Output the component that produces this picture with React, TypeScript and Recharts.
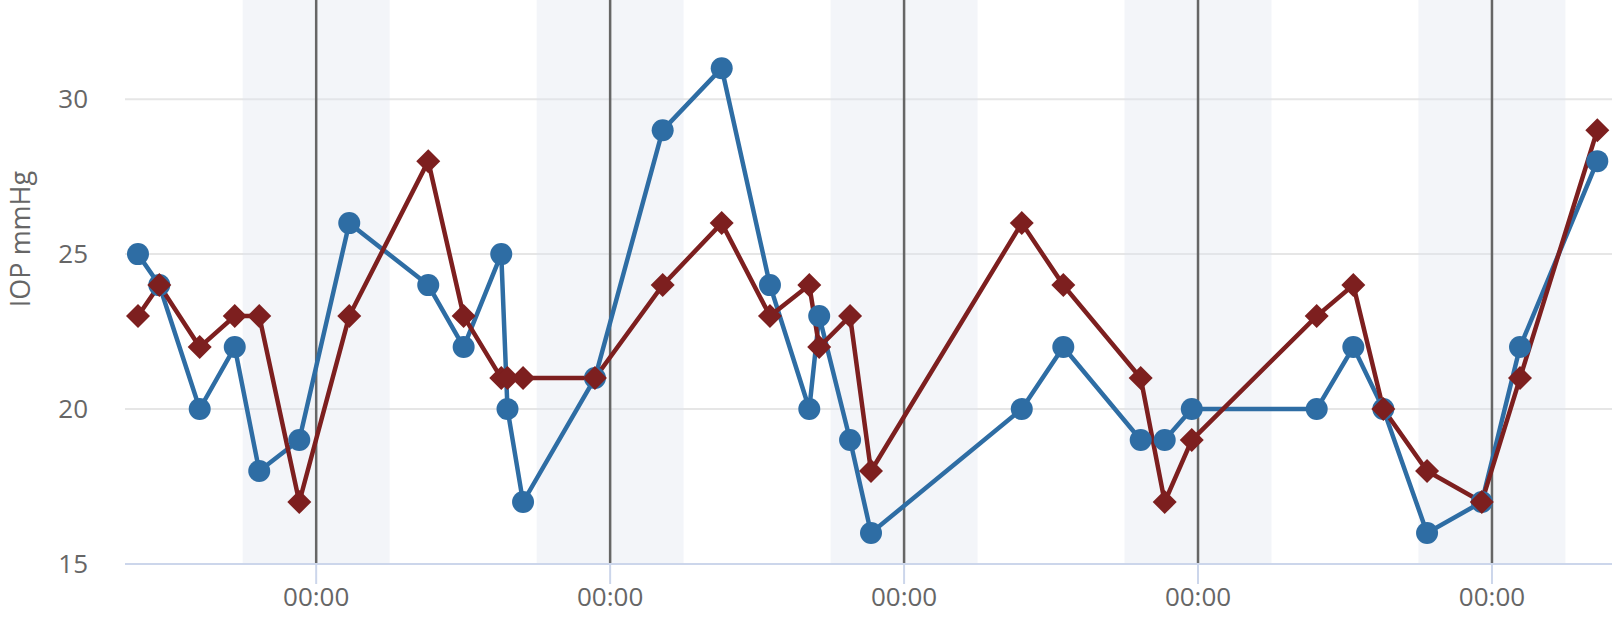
import {
  CartesianGrid,
  Line,
  LineChart,
  ReferenceArea,
  ReferenceLine,
  XAxis,
  YAxis,
} from "recharts";

// hours since midnight of the first day
const hours = [
  9.45, 11.19, 14.49, 17.35, 19.35, 22.62, 26.7, 33.15, 36.04, 39.11, 39.62, 40.89,
  46.76, 52.29, 57.11, 61.05, 64.26, 65.07, 67.59, 69.3, 81.61, 85.0, 91.32, 93.28,
  95.49, 105.69, 108.68, 111.13, 114.7, 119.17, 122.29, 128.6,
];
const rightEye = [
  25, 24, 20, 22, 18, 19, 26, 24, 22, 25, 20, 17, 21, 29, 31, 24, 20, 23, 19, 16, 20,
  22, 19, 19, 20, 20, 22, 20, 16, 17, 22, 28,
];
const leftEye = [
  23, 24, 22, 23, 23, 17, 23, 28, 23, 21, 21, 21, 21, 24, 26, 23, 24, 22, 23, 18, 26,
  24, 21, 17, 19, 23, 24, 20, 18, 17, 21, 29,
];
const midnights = [24, 48, 72, 96, 120];
// night bands 18:00 - 06:00
const nightStart = [18, 42, 66, 90, 114];
const nightEnd = [30, 54, 78, 102, 126];
const yTicks = [15, 20, 25, 30];
const gridValues = [20, 25, 30];

const BLUE = "#2e6da4";
const RED = "#7d1f1f";
const FONT = "'Open Sans', sans-serif";

const data = hours.map((t, i) => ({ t, od: rightEye[i], os: leftEye[i] }));

function Diamond(props: any) {
  const { cx, cy, index } = props;
  if (cx == null || cy == null) return null;
  const r = 12;
  return (
    <path
      key={`d-${index}`}
      d={`M${cx},${cy - r}L${cx + r},${cy}L${cx},${cy + r}L${cx - r},${cy}Z`}
      fill={RED}
    />
  );
}

export default function App() {
  return (
    <div style={{ position: "absolute", left: 0, top: 0, fontFamily: FONT }}>
      <LineChart
        width={1620}
        height={636}
        data={data}
        margin={{ top: 0, right: 8, left: 0, bottom: 12 }}
      >
        {nightStart.map((s, i) => (
          <ReferenceArea
            key={`n${i}`}
            x1={s}
            x2={nightEnd[i]}
            fill="#dfe5ee"
            fillOpacity={0.38}
            stroke="none"
            ifOverflow="hidden"
          />
        ))}
        <CartesianGrid
          vertical={false}
          horizontalValues={gridValues}
          stroke="#e6e6e6"
          strokeWidth={2}
        />
        <XAxis
          dataKey="t"
          type="number"
          domain={[8.39, 129.8]}
          allowDataOverflow
          ticks={midnights}
          tickFormatter={() => "00:00"}
          height={60}
          tickSize={20}
          tickMargin={4}
          tickLine={{ stroke: "#ccd6eb", strokeWidth: 2 }}
          axisLine={{ stroke: "#ccd6eb", strokeWidth: 2 }}
          tick={{ fill: "#666666", fontSize: 26, fontFamily: FONT }}
        />
        <YAxis
          type="number"
          domain={[15, 33.2]}
          allowDataOverflow
          ticks={yTicks}
          width={125}
          tickSize={0}
          tickMargin={37}
          tickLine={false}
          axisLine={false}
          tick={{ fill: "#666666", fontSize: 26, fontFamily: FONT }}
          label={() => (
            <text
              x={30}
              y={239}
              transform="rotate(-90 30 239)"
              textAnchor="middle"
              fill="#666666"
              fontSize={27}
              fontFamily={FONT}
            >
              IOP mmHg
            </text>
          )}
        />
        {midnights.map((m) => (
          <ReferenceLine key={`m${m}`} x={m} stroke="#666666" strokeWidth={2.5} />
        ))}
        <Line
          dataKey="od"
          name="OD"
          stroke={BLUE}
          strokeWidth={4.5}
          dot={{ r: 11, fill: BLUE, stroke: "none" }}
          activeDot={false}
          isAnimationActive={false}
        />
        <Line
          dataKey="os"
          name="OS"
          stroke={RED}
          strokeWidth={4.5}
          dot={<Diamond />}
          activeDot={false}
          isAnimationActive={false}
        />
      </LineChart>
    </div>
  );
}
